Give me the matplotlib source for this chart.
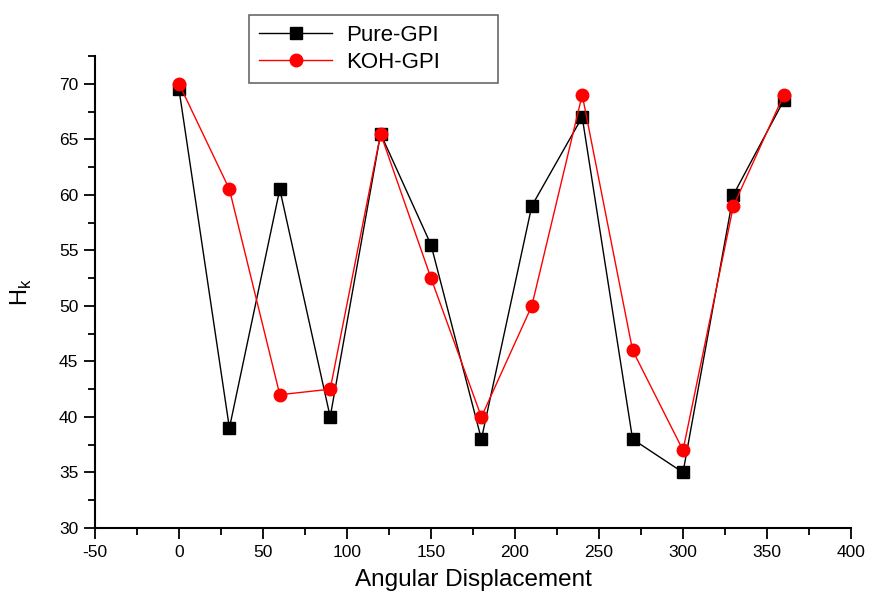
import matplotlib
matplotlib.use("Agg")
import matplotlib.pyplot as plt
from matplotlib.ticker import MultipleLocator

plt.rcParams['font.family'] = ['Liberation Sans', 'DejaVu Sans']
plt.rcParams['axes.unicode_minus'] = False

angles = [0, 30, 60, 90, 120, 150, 180, 210, 240, 270, 300, 330, 360]
pure_gpi = [69.5, 39, 60.5, 40, 65.5, 55.5, 38, 59, 67, 38, 35, 60, 68.5]
koh_gpi = [70, 60.5, 42, 42.5, 65.5, 52.5, 40, 50, 69, 46, 37, 59, 69]

fig = plt.figure(figsize=(8.69, 5.95), dpi=100)
ax = fig.add_axes([95/869, 1-528/595, (851-95)/869, (528-56)/595])

l1, = ax.plot(angles, pure_gpi, color='black', lw=1, marker='s', markersize=8,
              markerfacecolor='black', markeredgecolor='black', label='Pure-GPI')
l2, = ax.plot(angles, koh_gpi, color='red', lw=1, marker='o', markersize=9,
              markerfacecolor='red', markeredgecolor='red', label='KOH-GPI')

ax.set_xlim(-50, 400)
ax.set_ylim(30, 72.5)
ax.xaxis.set_major_locator(MultipleLocator(50))
ax.xaxis.set_minor_locator(MultipleLocator(25))
ax.yaxis.set_major_locator(MultipleLocator(5))
ax.yaxis.set_minor_locator(MultipleLocator(2.5))
ax.set_yticks([30, 35, 40, 45, 50, 55, 60, 65, 70])

for s in ['top', 'right']:
    ax.spines[s].set_visible(False)
for s in ['left', 'bottom']:
    ax.spines[s].set_linewidth(1.5)

ax.tick_params(which='major', direction='out', length=8, width=1.3, labelsize=12.5, pad=4)
ax.tick_params(which='minor', direction='out', length=5, width=1.3)

ax.set_xlabel('Angular Displacement', fontsize=17.5, labelpad=7)
ax.set_ylabel('H$_\\mathregular{k}$', fontsize=17, labelpad=18)

x0, y1, x1, y0 = 249/869, 1-15/595, 498/869, 1-82/595
leg = fig.legend(handles=[l1, l2], loc='upper left',
                 bbox_to_anchor=(x0, y0, x1-x0, y1-y0), mode='expand',
                 borderaxespad=0, fontsize=16,
                 frameon=True, fancybox=False, edgecolor='#444444',
                 handlelength=3.3, handletextpad=0.6,
                 borderpad=0.45, labelspacing=0.25)
leg.get_frame().set_linewidth(1.2)

fig.savefig('out.png', dpi=100)
